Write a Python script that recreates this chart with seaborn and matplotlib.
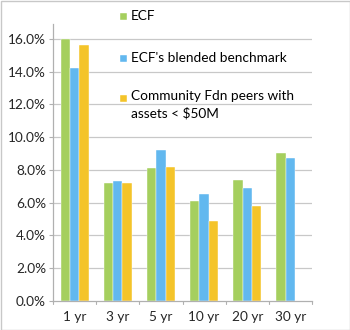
import numpy as np
import pandas as pd
import matplotlib
matplotlib.use("Agg")
import matplotlib.pyplot as plt
import seaborn as sns

periods = ["1 yr", "3 yr", "5 yr", "10 yr", "20 yr", "30 yr"]
series_names = ["ECF", "ECF's blended benchmark",
                "Community Fdn peers with\nassets < $50M"]
ecf = [16.0, 7.2, 8.1, 6.1, 7.4, 9.0]
benchmark = [14.2, 7.3, 9.2, 6.5, 6.9, 8.7]
peers = [15.6, 7.2, 8.2, 4.9, 5.8, np.nan]
colors = ["#a5cf5e", "#62b8ef", "#f4c42a"]
yticks = [0, 2, 4, 6, 8, 10, 12, 14, 16]

df = pd.DataFrame({
    "period": periods * 3,
    "series": [series_names[0]] * 6 + [series_names[1]] * 6 + [series_names[2]] * 6,
    "value": ecf + benchmark + peers,
})

sns.set_theme(style="white")
plt.rcParams["font.family"] = ["Lato", "DejaVu Sans"]
FS = 9.8
W, H = 350, 330

fig = plt.figure(figsize=(3.5, 3.3), dpi=100)
ax = fig.add_axes([53 / W, 1 - 301 / H, 259 / W, 277 / H])

sns.barplot(data=df, x="period", y="value", hue="series", order=periods,
            hue_order=series_names, palette=colors, width=0.65,
            saturation=1, ax=ax, legend=False)
for p in ax.patches:
    p.set_edgecolor("white")
    p.set_linewidth(0.3)

ax.set_ylim(0, 16.9)
ax.set_xlim(-0.5, 5.5)
ax.set_yticks(yticks)
ax.set_yticklabels([f"{v:.1f}%" for v in yticks], fontsize=FS)
ax.tick_params(axis="x", labelsize=FS, length=0, pad=7)
ax.tick_params(axis="y", length=3, width=0.8, color="#b0b0b0", pad=2,
               left=True)
for v in yticks[1:]:
    ax.axhline(v, color="#c8c8c8", lw=0.9, zorder=0)
ax.set_axisbelow(True)
for x in np.arange(-0.5, 6.0, 1.0):
    ax.plot([x, x], [0, -0.012], transform=ax.get_xaxis_transform(),
            color="#b0b0b0", lw=0.8, clip_on=False)
ax.set_xlabel("")
ax.set_ylabel("")
for s in ["top", "right"]:
    ax.spines[s].set_visible(False)
for s in ["left", "bottom"]:
    ax.spines[s].set_color("#b0b0b0")
    ax.spines[s].set_linewidth(0.9)

# Legend: colour squares with labels, laid out in pixel positions
legend_rows = [16.5, 58.5, 98.5]
for name, c, yc in zip(series_names, colors, legend_rows):
    fig.patches.append(plt.Rectangle((120 / W, 1 - (yc + 3.5) / H), 7 / W, 7 / H,
                                     transform=fig.transFigure,
                                     facecolor=c, edgecolor="white", lw=0.3))
    if "\n" in name:
        fig.text(131 / W, 1 - (yc - 8) / H, name, fontsize=FS, va="top",
                 ha="left", linespacing=1.45, color="black")
    else:
        fig.text(131 / W, 1 - yc / H, name, fontsize=FS, va="center",
                 ha="left", color="black")

fig.patches.append(plt.Rectangle((0.5 / W, 0.5 / H), 349 / W, 329 / H,
                                 transform=fig.transFigure, fill=False,
                                 edgecolor="#c8c8c8", lw=1.0))
fig.savefig("out.png", dpi=100)
